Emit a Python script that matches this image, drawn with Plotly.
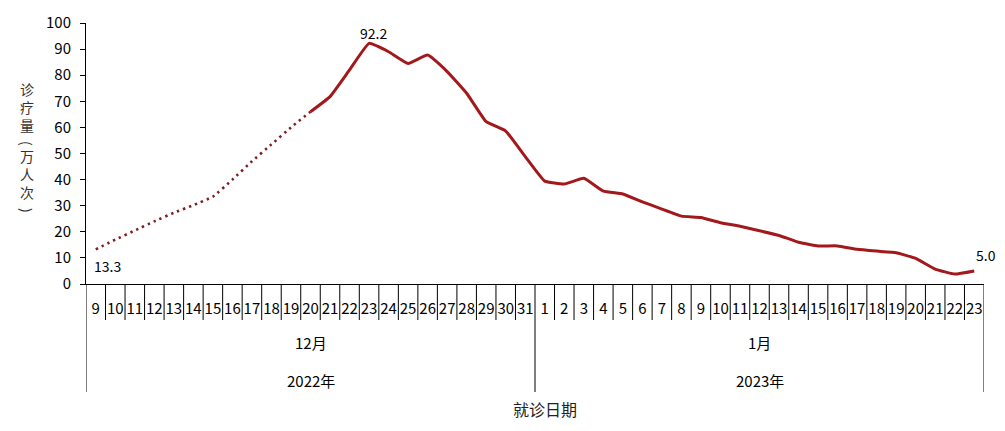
import plotly.graph_objects as go

# ---- data ----
dec_days = [str(d) for d in range(9, 32)]
jan_days = [str(d) for d in range(1, 24)]
day_labels = dec_days + jan_days
month_labels = ["12月", "1月"]
year_labels = ["2022年", "2023年"]

visits = [
    13.3, 17.0, 20.5, 24.0, 27.3, 30.2, 33.5, 40.0, 47.0, 53.5, 60.0, 66.0,   # Dec 9-20 (estimated, dotted)
    71.8, 82.0, 92.2, 89.0, 84.5, 87.7, 81.4, 73.1, 62.2, 58.6, 48.8,         # Dec 21-31
    39.4, 38.3, 40.5, 35.6, 34.5, 31.5, 28.7, 26.0, 25.5, 23.5, 22.1, 20.4,   # Jan 1-12
    18.6, 16.0, 14.6, 14.6, 13.3, 12.6, 12.0, 9.8, 5.7, 3.8, 5.0,             # Jan 13-23
]
split_idx = 11  # Dec 20: dotted before, solid from here on
label_points = [0, 14, 45]

x_idx = list(range(len(visits)))
LINE_COLOR = "#A3191B"
FONT = "Noto Sans CJK SC, Liberation Sans, sans-serif"

fig = go.Figure()
fig.add_trace(go.Scatter(
    x=x_idx[:split_idx + 1], y=visits[:split_idx + 1], mode="lines",
    line=dict(color="#7E1F22", width=2.6, dash="2.4px,4px", shape="spline", smoothing=0.35),
    hoverinfo="skip", showlegend=False))
fig.add_trace(go.Scatter(
    x=x_idx[split_idx:], y=visits[split_idx:], mode="lines",
    line=dict(color=LINE_COLOR, width=3, shape="spline", smoothing=0.35),
    hoverinfo="skip", showlegend=False))

n = len(visits)
plot_h = 431 - 23 - 147
short_y = -(36 / plot_h)
long_y = -(108 / plot_h)
shapes = []
boundary = len(dec_days)
for i in range(0, n + 1):
    xb = i - 0.5
    y1 = long_y if i in (0, boundary, n) else short_y
    shapes.append(dict(type="line", xref="x", yref="paper", x0=xb, x1=xb, y0=0, y1=y1,
                       line=dict(color="black", width=1)))

annotations = []
centers = [(len(dec_days) - 1) / 2, len(dec_days) + (len(jan_days) - 1) / 2]
for c, m, yv in zip(centers, month_labels, year_labels):
    annotations.append(dict(x=c, y=-(58 / plot_h), xref="x", yref="paper", text=m,
                            xanchor="center", yanchor="middle",
                            showarrow=False, font=dict(size=15, color="black", family=FONT)))
    annotations.append(dict(x=c, y=-(96 / plot_h), xref="x", yref="paper", text=yv,
                            xanchor="center", yanchor="middle",
                            showarrow=False, font=dict(size=15, color="black", family=FONT)))

offsets = {0: (12, -17), 14: (4, 10), 45: (12, 16)}
for i in label_points:
    dx, dy = offsets[i]
    annotations.append(dict(x=i, y=visits[i], xref="x", yref="y", text=f"{visits[i]:.1f}",
                            showarrow=False, xshift=dx, yshift=dy,
                            xanchor="center", yanchor="middle",
                            font=dict(size=14, color="black", family=FONT)))

# x axis title
annotations.append(dict(x=(545 - 86) / 898, y=-(125 / plot_h), xref="paper", yref="paper",
                        text="就诊日期", showarrow=False, xanchor="center", yanchor="middle",
                        font=dict(size=16, color="#222", family=FONT)))
# y axis title, stacked vertically: 诊疗量（万人次）
ytitle_parts = [("诊<br>疗<br>量", 107, 0), ("(", 143, 90), ("万<br>人<br>次", 174, 0), (")", 210, 90)]
for txt, yc, ang in ytitle_parts:
    annotations.append(dict(x=-(86 - 27) / 898, y=(284 - yc) / plot_h, xref="paper", yref="paper",
                            text=txt, showarrow=False, xanchor="center", yanchor="middle",
                            textangle=ang,
                            font=dict(size=14, color="#333", family=FONT)))

fig.update_layout(
    width=1005, height=431,
    margin=dict(l=86, r=21, t=23, b=147),
    paper_bgcolor="white", plot_bgcolor="white",
    font=dict(family=FONT, color="black", size=15),
    shapes=shapes, annotations=annotations,
    xaxis=dict(range=[-0.5, n - 0.5], tickmode="array", tickvals=x_idx, ticktext=day_labels,
               showline=True, linecolor="black", linewidth=1, ticks="", showgrid=False,
               zeroline=False, tickfont=dict(size=15, color="black"), ticklabelstandoff=11,
               fixedrange=True),
    yaxis=dict(range=[0, 100], dtick=10, showline=True, linecolor="black", linewidth=1,
               ticks="outside", ticklen=5, tickcolor="black", showgrid=False, zeroline=False,
               tickfont=dict(size=15, color="black"), ticklabelstandoff=6, fixedrange=True),
)

fig.write_html("out.html", config={"displayModeBar": False},
               post_script="document.body.style.margin='0px';")
